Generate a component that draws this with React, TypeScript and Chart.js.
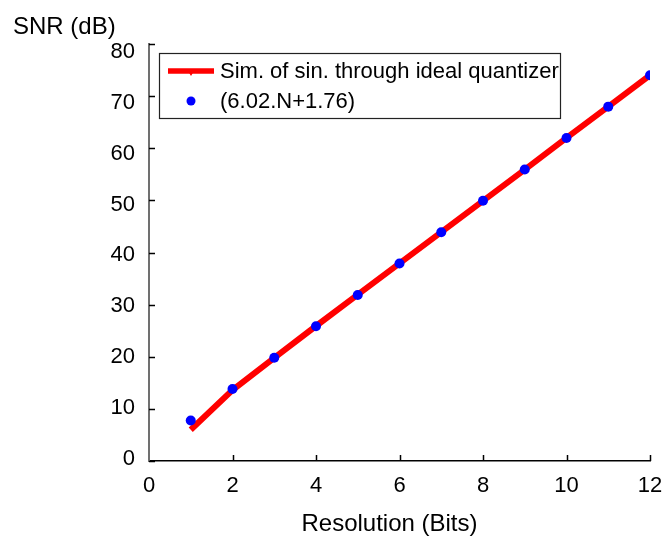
import React, { useEffect, useRef } from 'react';
import { Chart, registerables } from 'chart.js';

Chart.register(...registerables);

// ---- data ----
const bits = [1, 2, 3, 4, 5, 6, 7, 8, 9, 10, 11, 12];
const simulatedSnr = [6.0, 13.6, 19.8, 25.9, 31.9, 37.9, 43.9, 49.9, 55.9, 62.0, 68.0, 74.0];
const theorySnr = [7.78, 13.8, 19.82, 25.84, 31.86, 37.88, 43.9, 49.92, 55.94, 61.96, 67.98, 74.0];
const xTickValues = [0, 2, 4, 6, 8, 10, 12];
const yTickValues = [0, 10, 20, 30, 40, 50, 60, 70, 80];
const seriesLabels = ['Sim. of sin. through ideal quantizer', '(6.02.N+1.76)'];
const yTitle = 'SNR (dB)';
const xTitle = 'Resolution (Bits)';

const FONT = "'Liberation Sans', Arial, sans-serif";

const decorPlugin = {
  id: 'decor',
  afterDraw(chart: any) {
    const { ctx, chartArea, scales } = chart;
    ctx.save();
    // inward tick marks
    ctx.strokeStyle = '#000';
    ctx.lineWidth = 1.5;
    ctx.beginPath();
    for (const v of yTickValues) {
      const y = Math.round(scales.y.getPixelForValue(v)) + 0.5;
      ctx.moveTo(chartArea.left, y);
      ctx.lineTo(chartArea.left + 6, y);
    }
    for (const v of xTickValues) {
      if (v === 0) continue;
      const x = Math.round(scales.x.getPixelForValue(v)) + 0.5;
      ctx.moveTo(x, chartArea.bottom);
      ctx.lineTo(x, chartArea.bottom - 6);
    }
    ctx.stroke();

    // x axis title (slightly left of plot centre, as in the original)
    ctx.fillStyle = '#000';
    ctx.font = `24px ${FONT}`;
    ctx.textAlign = 'center';
    ctx.textBaseline = 'middle';
    ctx.fillText(xTitle, chartArea.left + (chartArea.right - chartArea.left) / 2 - 10, 524);

    // legend box
    const lx = chartArea.left + 10;
    const ly = chartArea.top + 9;
    const lw = 401;
    const lh = 65;
    ctx.fillStyle = '#fff';
    ctx.fillRect(lx, ly, lw, lh);
    ctx.strokeStyle = '#222';
    ctx.lineWidth = 1.2;
    ctx.strokeRect(lx + 0.5, ly + 0.5, lw, lh);

    const row1 = ly + 18;
    const row2 = ly + 48;
    const sx0 = lx + 9;
    const sx1 = lx + 55;
    const sxm = (sx0 + sx1) / 2;
    // red line sample
    ctx.strokeStyle = '#ff0000';
    ctx.lineWidth = 5.5;
    ctx.beginPath();
    ctx.moveTo(sx0, row1);
    ctx.lineTo(sx1, row1);
    ctx.stroke();
    ctx.fillStyle = '#ff0000';
    ctx.beginPath();
    ctx.moveTo(sxm - 3, row1);
    ctx.lineTo(sxm + 3, row1);
    ctx.lineTo(sxm, row1 + 5);
    ctx.closePath();
    ctx.fill();
    // blue dot sample
    ctx.fillStyle = '#0000ff';
    ctx.beginPath();
    ctx.arc(sxm, row2, 4.5, 0, Math.PI * 2);
    ctx.fill();

    ctx.fillStyle = '#000';
    ctx.font = `22px ${FONT}`;
    ctx.textBaseline = 'middle';
    ctx.textAlign = 'left';
    ctx.fillText(seriesLabels[0], lx + 61, row1 + 1);
    ctx.fillText(seriesLabels[1], lx + 61, row2 + 1);
    ctx.restore();
  },
};

export default function App() {
  const canvasRef = useRef<HTMLCanvasElement | null>(null);

  useEffect(() => {
    const canvas = canvasRef.current;
    if (!canvas) return;
    const chart = new Chart(canvas, {
      type: 'line',
      data: {
        datasets: [
          {
            label: seriesLabels[0],
            data: bits.map((b, i) => ({ x: b, y: simulatedSnr[i] })),
            borderColor: '#ff0000',
            backgroundColor: '#ff0000',
            borderWidth: 6,
            pointRadius: 0,
            showLine: true,
            tension: 0,
            order: 2,
            yAxisID: 'y',
          },
          {
            label: seriesLabels[1],
            data: bits.map((b, i) => ({ x: b, y: theorySnr[i] })),
            borderColor: '#0000ff',
            backgroundColor: '#0000ff',
            showLine: false,
            pointRadius: 5,
            pointBorderWidth: 0,
            order: 1,
            yAxisID: 'y',
          },
        ],
      },
      options: {
        responsive: false,
        animation: false,
        layout: { padding: { left: 13, top: 0, right: 16, bottom: 0 } },
        plugins: {
          legend: { display: false },
          tooltip: { enabled: false },
          title: {
            display: true,
            text: yTitle,
            align: 'start',
            color: '#000',
            font: { family: FONT, size: 24, weight: 'normal' },
            padding: { top: 13, bottom: 2.2 },
          },
        },
        scales: {
          x: {
            type: 'linear',
            min: 0,
            max: 12,
            afterFit: (s: any) => {
              s.height = 79;
              s.paddingLeft = 0;
              s.paddingRight = 0;
            },
            afterBuildTicks: (s: any) => {
              s.ticks = xTickValues.map((v) => ({ value: v }));
            },
            grid: { display: true, drawOnChartArea: false, drawTicks: false },
            border: { display: true, color: '#000', width: 1.5 },
            ticks: {
              color: '#000',
              padding: 12,
              font: { family: FONT, size: 22 },
            },
            title: { display: false },
          },
          y: {
            type: 'linear',
            position: 'left',
            weight: 0,
            min: 0,
            max: 80,
            afterFit: (s: any) => {
              s.width = 0;
              s.paddingTop = 0;
              s.paddingBottom = 0;
            },
            afterBuildTicks: (s: any) => {
              s.ticks = yTickValues.map((v) => ({ value: v }));
            },
            grid: { display: true, drawOnChartArea: false, drawTicks: false },
            border: { display: true, color: '#707070', width: 2 },
            ticks: { display: false },
          },
          // tick labels of the original sit on a slightly compressed scale
          yLabels: {
            type: 'linear',
            position: 'left',
            weight: 1,
            min: -0.39,
            max: 81.54,
            afterFit: (s: any) => {
              s.width = 136;
              s.paddingTop = 0;
              s.paddingBottom = 0;
            },
            afterBuildTicks: (s: any) => {
              s.ticks = yTickValues.map((v) => ({ value: v }));
            },
            grid: { display: false, drawTicks: false },
            border: { display: false },
            ticks: {
              color: '#000',
              padding: 14,
              font: { family: FONT, size: 22 },
            },
          },
        },
      },
      plugins: [decorPlugin],
    });
    return () => chart.destroy();
  }, []);

  return (
    <div style={{ position: 'fixed', left: 0, top: 0, width: 666, height: 540, background: '#fff' }}>
      <canvas ref={canvasRef} width={666} height={540} style={{ display: 'block' }} />
    </div>
  );
}
